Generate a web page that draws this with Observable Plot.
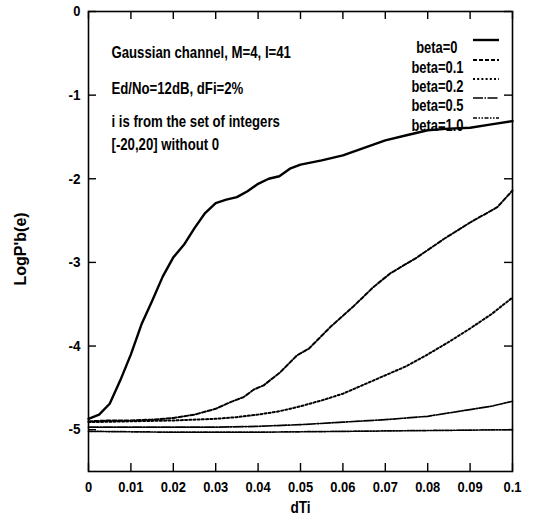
<!DOCTYPE html>
<html><head><meta charset="utf-8">
<script src="https://cdn.jsdelivr.net/npm/d3@7"></script>
<script src="https://cdn.jsdelivr.net/npm/@observablehq/plot@0.6"></script>
<style>
body{margin:0;background:#fff;}
#chart svg{display:block;}
</style></head><body><div id="chart"></div>
<script>
// ---- data ----
const seriesNames = ["beta=0", "beta=0.1", "beta=0.2", "beta=0.5", "beta=1.0"];

const beta0X = [0,0.0025,0.005,0.0075,0.01,0.0125,0.015,0.0175,0.02,0.0225,0.025,0.0275,0.03,0.0325,0.035,0.0375,0.04,0.0425,0.045,0.0475,0.05,0.055,0.06,0.065,0.07,0.075,0.08,0.085,0.09,0.095,0.1];
const beta0Y = [-4.87,-4.82,-4.69,-4.41,-4.10,-3.74,-3.46,-3.17,-2.94,-2.79,-2.59,-2.41,-2.29,-2.25,-2.22,-2.15,-2.06,-2.00,-1.97,-1.88,-1.83,-1.78,-1.72,-1.63,-1.54,-1.48,-1.42,-1.40,-1.39,-1.35,-1.31];

const beta01X = [0,0.005,0.01,0.015,0.02,0.025,0.03,0.0335,0.0366,0.039,0.0413,0.0453,0.0492,0.052,0.0571,0.0626,0.0673,0.0712,0.0775,0.0838,0.0901,0.0964,0.1];
const beta01Y = [-4.90,-4.89,-4.89,-4.88,-4.86,-4.82,-4.75,-4.67,-4.61,-4.52,-4.47,-4.31,-4.11,-4.03,-3.77,-3.52,-3.29,-3.13,-2.94,-2.72,-2.52,-2.34,-2.14];

const beta02X = [0,0.01,0.02,0.03,0.035,0.04,0.045,0.05,0.055,0.06,0.065,0.07,0.075,0.08,0.085,0.09,0.095,0.1];
const beta02Y = [-4.91,-4.90,-4.89,-4.87,-4.85,-4.82,-4.78,-4.72,-4.65,-4.57,-4.46,-4.35,-4.24,-4.10,-3.95,-3.79,-3.62,-3.42];

const beta05X = [0,0.01,0.02,0.03,0.04,0.05,0.06,0.07,0.08,0.085,0.09,0.095,0.1];
const beta05Y = [-4.97,-4.97,-4.97,-4.97,-4.96,-4.94,-4.91,-4.88,-4.84,-4.80,-4.76,-4.72,-4.66];

const beta10X = [0,0.02,0.04,0.06,0.08,0.1];
const beta10Y = [-5.02,-5.03,-5.03,-5.02,-5.01,-5.00];

const xTicks = [0,0.01,0.02,0.03,0.04,0.05,0.06,0.07,0.08,0.09,0.1];
const xTickLabels = ["0","0.01","0.02","0.03","0.04","0.05","0.06","0.07","0.08","0.09","0.1"];
const yTicks = [0,-1,-2,-3,-4,-5];
const yTickLabels = ["0","-1","-2","-3","-4","-5"];

const annotationLines = ["Gaussian channel, M=4, I=41", "Ed/No=12dB, dFi=2%", "i is from the set of integers", "[-20,20] without 0"];
const xLabel = "dTi";
const yLabel = "LogP'b(e)";

// ---- styles ----
const FONT = "'Liberation Sans', Arial, Helvetica, sans-serif";
const styles = [
  {dash: null, width: 2.4},
  {dash: "4,2", width: 2},
  {dash: "2,2.2", width: 2},
  {dash: "10,1.5,1.5,1.5", width: 1.7},
  {dash: "4,1.5,1.5,1.5,1.5,1.5", width: 1.7}
];
const seriesX = [beta0X, beta01X, beta02X, beta05X, beta10X];
const seriesY = [beta0Y, beta01Y, beta02Y, beta05Y, beta10Y];

const xDomain = [0, 0.1], yDomain = [-5.5, 0];
const mL = 88, mR = 21, mT = 11, mB = 47, W = 533, H = 518;
const tickLenY = 8 / ((H - mT - mB) / (yDomain[1] - yDomain[0]));
const tickLenX = 8 / ((W - mL - mR) / (xDomain[1] - xDomain[0]));

const marks = [];
seriesNames.forEach((name, i) => {
  const data = seriesX[i].map((x, j) => ({x, y: seriesY[i][j]}));
  marks.push(Plot.line(data, {x: "x", y: "y", stroke: "#000", strokeWidth: styles[i].width,
    strokeDasharray: styles[i].dash, curve: "linear"}));
});
// inward ticks on all four sides
marks.push(Plot.ruleX(xTicks, {x: d => d, y1: yDomain[0], y2: yDomain[0] + tickLenY, stroke: "#000", strokeWidth: 1.4}));
marks.push(Plot.ruleX(xTicks, {x: d => d, y1: yDomain[1], y2: yDomain[1] - tickLenY, stroke: "#000", strokeWidth: 1.4}));
marks.push(Plot.ruleY(yTicks, {y: d => d, x1: xDomain[0], x2: xDomain[0] + tickLenX, stroke: "#000", strokeWidth: 1.4}));
marks.push(Plot.ruleY(yTicks, {y: d => d, x1: xDomain[1], x2: xDomain[1] - tickLenX, stroke: "#000", strokeWidth: 1.4}));
marks.push(Plot.frame({stroke: "#000", strokeWidth: 1.6}));
// tick labels
marks.push(Plot.axisX({ticks: xTicks, tickSize: 0, tickPadding: 10, label: null,
  tickFormat: (d) => xTickLabels[xTicks.indexOf(d)],
  fontSize: 15, fontWeight: "bold", fontFamily: FONT, fill: "#000"}));
marks.push(Plot.axisY({ticks: yTicks, tickSize: 0, tickPadding: 8, label: null,
  tickFormat: (d) => yTickLabels[yTicks.indexOf(d)],
  fontSize: 15, fontWeight: "bold", fontFamily: FONT, fill: "#000"}));
// axis labels
marks.push(Plot.text([xLabel], {text: d => d, frameAnchor: "bottom", dy: 41,
  fontSize: 16, fontWeight: "bold", fontFamily: FONT, fill: "#000"}));
marks.push(Plot.text([yLabel], {text: d => d, frameAnchor: "left", dx: -68, dy: 44, rotate: -90,
  fontSize: 16, fontWeight: "bold", fontFamily: FONT, fill: "#000"}));
// annotation
const annoDy = [34, 70, 103, 126];
annotationLines.forEach((t, i) => {
  marks.push(Plot.text([t], {text: d => d, frameAnchor: "top-left", dx: 23, dy: annoDy[i], textAnchor: "start",
    fontSize: 17, fontWeight: "bold", fontFamily: FONT, fill: "#000"}));
});
// legend labels
const legDy = [29, 49, 68, 87, 107];
const legDx = [-55, -49, -49, -49, -49];
seriesNames.forEach((t, i) => {
  marks.push(Plot.text([t], {text: d => d, frameAnchor: "top-right", dx: legDx[i], dy: legDy[i], textAnchor: "end",
    fontSize: 17, fontWeight: "bold", fontFamily: FONT, fill: "#000"}));
});

const chart = Plot.plot({
  width: W, height: H,
  marginLeft: mL, marginRight: mR, marginTop: mT, marginBottom: mB,
  x: {domain: xDomain, axis: null},
  y: {domain: yDomain, axis: null},
  style: {background: "#fff", color: "#000", fontFamily: FONT},
  marks
});

// legend line samples
const svg = d3.select(chart);
seriesNames.forEach((t, i) => {
  const y = mT + legDy[i];
  svg.append("line")
    .attr("x1", W - mR - 39).attr("x2", W - mR - 13)
    .attr("y1", y).attr("y2", y)
    .attr("stroke", "#000").attr("stroke-width", styles[i].width)
    .attr("stroke-dasharray", styles[i].dash);
});
document.getElementById("chart").appendChild(chart);

// condensed lettering like the reference (Helvetica Narrow look), matched by text content
function factorFor(s) {
  if (annotationLines.includes(s)) return 0.775;
  if (seriesNames.includes(s)) return 0.76;
  if (s === xLabel) return 0.85;
  if (yTickLabels.includes(s) && s !== "0") return 0.9;
  if (xTickLabels.includes(s)) return 0.86;
  return 1;
}
svg.selectAll("text").each(function() {
  const f = factorFor(this.textContent.trim());
  if (f === 1) return;
  const L = this.getComputedTextLength();
  if (!(L > 0)) return;
  this.setAttribute("textLength", (L * f).toFixed(2));
  this.setAttribute("lengthAdjust", "spacingAndGlyphs");
});
</script>
</body></html>
